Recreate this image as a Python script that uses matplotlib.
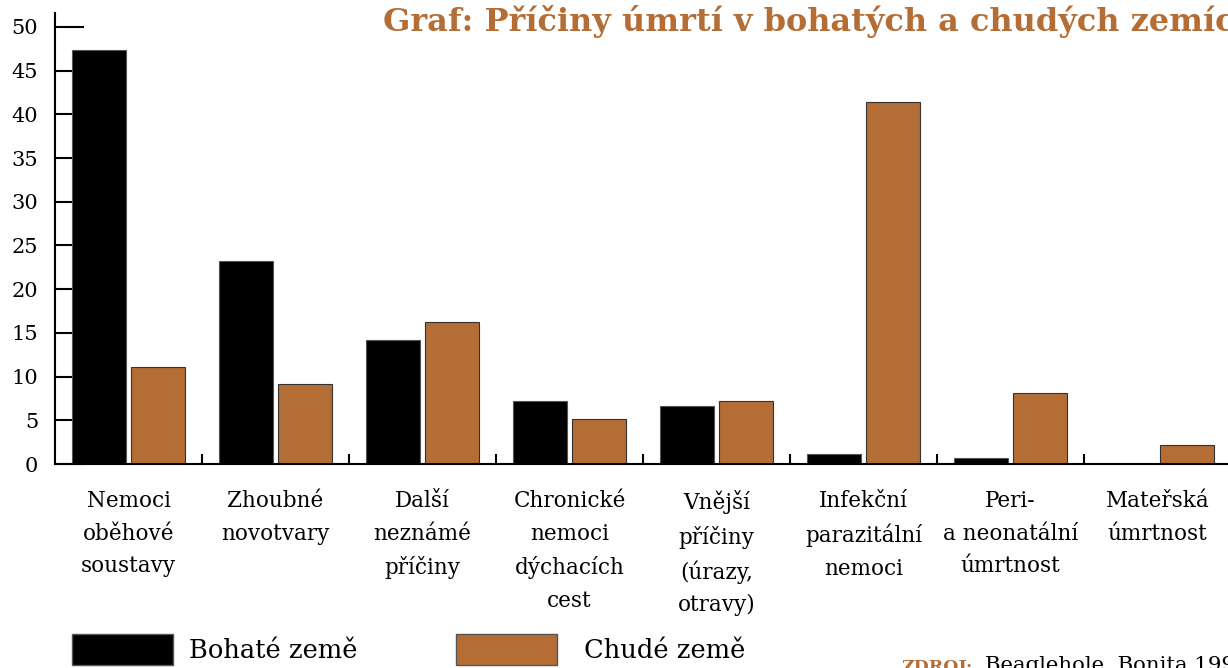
import numpy as np
import matplotlib.pyplot as plt
from matplotlib.patches import Patch

plt.rcParams['font.family'] = ['DejaVu Serif']

categories = ['Nemoci\noběhové\nsoustavy', 'Zhoubné\nnovotvary', 'Další\nneznámé\npříčiny',
              'Chronické\nnemoci\ndýchacích\ncest', 'Vnější\npříčiny\n(úrazy,\notravy)',
              'Infekční\nparazitální\nnemoci', 'Peri-\na neonatální\númrtnost', 'Mateřská\númrtnost']
bohate = [47.4, 23.2, 14.2, 7.2, 6.6, 1.1, 0.7, 0.0]
chude = [11.1, 9.2, 16.2, 5.1, 7.2, 41.4, 8.1, 2.2]
yticks = [0, 5, 10, 15, 20, 25, 30, 35, 40, 45, 50]

BROWN = '#b56d36'
W, H = 1228, 668

fig = plt.figure(figsize=(W / 100, H / 100), dpi=100)
ax = fig.add_axes([55 / W, (H - 464) / H, 1176 / W, (464 - 13) / H])

x = np.arange(len(categories))
bw = 0.367
ax.bar(x + 0.299, bohate, bw, color='black', edgecolor='#555555', linewidth=0.8, zorder=3)
ax.bar(x + 0.700, chude, bw, color=BROWN, edgecolor='#333333', linewidth=0.8, zorder=3)

ax.set_xlim(0, 8)
ax.set_ylim(0, 51.6)
for s in ['top', 'right']:
    ax.spines[s].set_visible(False)
for s in ['left', 'bottom']:
    ax.spines[s].set_linewidth(1.5)
    ax.spines[s].set_zorder(4)

ax.set_yticks(yticks)
ax.set_yticklabels([str(v) for v in yticks], fontsize=15)
ax.tick_params(axis='y', direction='in', length=21, width=1.5, pad=12)

# group separators as short inward ticks, names on minor ticks
ax.set_xticks(np.arange(1, 8))
ax.set_xticklabels([])
ax.tick_params(axis='x', which='major', direction='in', length=7, width=1.5)
ax.set_xticks(x + 0.5, categories, minor=True)
ax.tick_params(axis='x', which='minor', length=0, pad=19, labelsize=15.5)
for lbl in ax.get_xticklabels(minor=True):
    lbl.set_linespacing(1.62)

fig.text(383 / W, 1 - 5 / H, 'Graf: Příčiny úmrtí v bohatých a chudých zemích',
         fontsize=23, fontweight='bold', color=BROWN, va='top', ha='left')

# one legend per entry so each box can sit at its own spot
leg_kw = dict(loc='lower left', frameon=False, fontsize=18.5, handlelength=3.95,
              handleheight=1.45, borderpad=0, borderaxespad=0)
fig.legend(handles=[Patch(facecolor='black', edgecolor='#555555', label='Bohaté země')],
           bbox_to_anchor=(72 / W, 3 / H), handletextpad=0.6, **leg_kw)
fig.legend(handles=[Patch(facecolor=BROWN, edgecolor='#555555', label='Chudé země')],
           bbox_to_anchor=(456 / W, 3 / H), handletextpad=1.05, **leg_kw)

fig.text(901 / W, 1 - 659 / H, 'ZDROJ:', fontsize=12.5, fontweight='bold', color=BROWN,
         va='top', ha='left')
fig.text(985 / W, 1 - 656 / H, 'Beaglehole, Bonita 1997', fontsize=15.3, va='top', ha='left')

fig.savefig('out.png', dpi=100)
